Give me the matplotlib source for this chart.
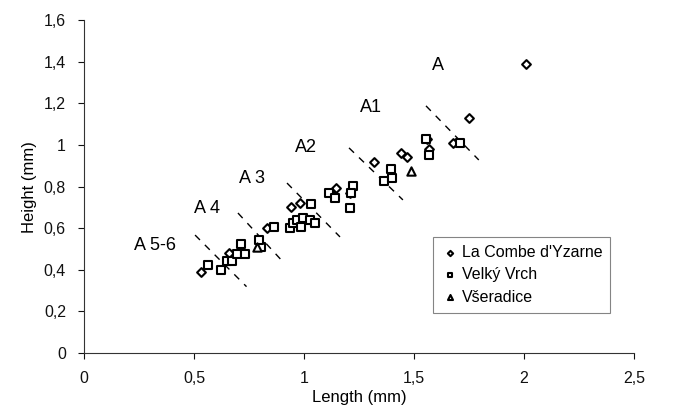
import numpy as np
import matplotlib
matplotlib.use('Agg')
import matplotlib.pyplot as plt
from matplotlib.ticker import FuncFormatter

plt.rcParams['font.family'] = ['Liberation Sans', 'DejaVu Sans']

# La Combe d'Yzarne (rombos)
combe_len = [0.53, 0.66, 0.83, 0.94, 0.98, 0.98, 1.13, 1.145, 1.21, 1.32,
             1.44, 1.47, 1.56, 1.57, 1.68, 1.75, 2.01]
combe_hgt = [0.39, 0.48, 0.60, 0.70, 0.72, 0.63, 0.76, 0.795, 0.77, 0.92,
             0.96, 0.94, 1.03, 0.98, 1.01, 1.13, 1.39]

# Velký Vrch (cuadrados)
vrch_len = [0.565, 0.624, 0.648, 0.674, 0.697, 0.734, 0.712, 0.805, 0.797,
            0.865, 0.936, 0.951, 0.967, 0.997, 0.985, 1.027, 1.05, 1.03,
            1.114, 1.141, 1.221, 1.212, 1.209, 1.365, 1.398, 1.401, 1.557,
            1.57, 1.709]
vrch_hgt = [0.425, 0.398, 0.442, 0.442, 0.474, 0.474, 0.524, 0.511, 0.543,
            0.605, 0.600, 0.623, 0.639, 0.647, 0.604, 0.639, 0.626, 0.716,
            0.771, 0.746, 0.805, 0.768, 0.695, 0.828, 0.885, 0.841, 1.029,
            0.952, 1.008]

# Všeradice (triangulos)
vser_len = [0.785, 1.486]
vser_hgt = [0.511, 0.877]

# Lineas divisorias entre estadios (L1, H1, L2, H2)
sep_l1 = [0.505, 0.700, 0.923, 1.205, 1.555]
sep_h1 = [0.567, 0.673, 0.817, 0.986, 1.188]
sep_l2 = [0.739, 0.905, 1.164, 1.450, 1.795]
sep_h2 = [0.319, 0.438, 0.558, 0.736, 0.928]

# Etiquetas de estadios
stage_names = ['A 5-6', 'A 4', 'A 3', 'A2', 'A1', 'A']
stage_len = [0.323, 0.559, 0.764, 1.009, 1.305, 1.609]
stage_hgt = [0.519, 0.697, 0.841, 0.986, 1.178, 1.380]

fig = plt.figure(figsize=(6.73, 4.15), dpi=100)
ax = fig.add_axes([0.1248, 0.1494, 0.817, 0.802])

mk = dict(facecolor='white', edgecolor='black', linewidths=1.5, zorder=3)
ax.scatter(combe_len, combe_hgt, marker='D', s=20, label="La Combe d'Yzarne", **mk)
ax.scatter(vrch_len, vrch_hgt, marker='s', s=28, label='Velký Vrch', **mk)
ax.scatter(vser_len, vser_hgt, marker='^', s=36, label='Všeradice', **mk)

for x1, y1, x2, y2 in zip(sep_l1, sep_h1, sep_l2, sep_h2):
    ax.plot([x1, x2], [y1, y2], color='black', lw=1.0, linestyle=(0, (5, 5)), zorder=2)

for name, x, y in zip(stage_names, stage_len, stage_hgt):
    ax.text(x, y, name, fontsize=13, ha='center', va='center')

ax.set_xlim(0, 2.5)
ax.set_ylim(0, 1.6)
ax.set_xticks(np.arange(0, 2.51, 0.5))
ax.set_yticks(np.arange(0, 1.61, 0.2))
fmt = FuncFormatter(lambda v, p: ('%g' % round(v, 2)).replace('.', ','))
ax.xaxis.set_major_formatter(fmt)
ax.yaxis.set_major_formatter(fmt)
ax.tick_params(labelsize=11.5, length=4, width=0.8, colors='#111111', pad=9)
for s in ['top', 'right']:
    ax.spines[s].set_visible(False)
for s in ['left', 'bottom']:
    ax.spines[s].set_color('#333333')
    ax.spines[s].set_linewidth(0.8)

ax.set_xlabel('Length (mm)', fontsize=12, labelpad=3)
ax.set_ylabel('Height (mm)', fontsize=12, labelpad=5)

leg = ax.legend(loc='upper left', bbox_to_anchor=(0.62, 0.372), fontsize=11.5,
                frameon=True, fancybox=False, edgecolor='#666666',
                handletextpad=0.1, borderpad=0.5, labelspacing=0.45,
                handlelength=1.2, markerscale=0.6)
leg.get_frame().set_linewidth(0.8)

fig.savefig('out.png', dpi=100)
